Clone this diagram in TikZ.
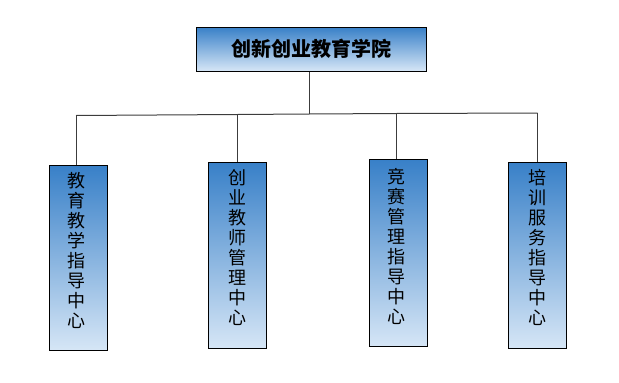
\documentclass[tikz,border=0pt]{standalone}
\usepackage{fontspec}
\newfontfamily\cjk{Noto Sans CJK SC}
\definecolor{boxtop}{RGB}{56,128,200}
\definecolor{boxbot}{RGB}{214,230,246}
\definecolor{linec}{RGB}{60,60,60}
\begin{document}
\begin{tikzpicture}[x=1pt,y=-1pt,
  orgbox/.style={draw=black,line width=1pt,top color=boxtop,bottom color=boxbot,inner sep=0pt},
  vtext/.style={inner sep=0pt,align=center,font=\cjk\fontsize{18}{20}\selectfont},
  conn/.style={draw=linec,line width=1pt}]
\useasboundingbox (0,0) rectangle (619,383);
\node[orgbox,minimum width=230,minimum height=44,font=\cjk\bfseries\fontsize{20}{22}\selectfont] (top) at (311,49) {\raisebox{-3pt}{创新创业教育学院}};
\node[orgbox,minimum width=58,minimum height=185] (b1) at (78.5,258) {};
\node[orgbox,minimum width=58,minimum height=186] (b2) at (237.5,255.2) {};
\node[orgbox,minimum width=58,minimum height=187] (b3) at (398.5,253.3) {};
\node[orgbox,minimum width=58,minimum height=186] (b4) at (537.5,255.2) {};
\node[vtext] (t1) at (76,250) {教\\育\\教\\学\\指\\导\\中\\心};
\node[vtext] (t2) at (237,247.5) {创\\业\\教\\师\\管\\理\\中\\心};
\node[vtext] (t3) at (396,246.5) {竞\\赛\\管\\理\\指\\导\\中\\心};
\node[vtext] (t4) at (537,247.5) {培\\训\\服\\务\\指\\导\\中\\心};
\coordinate (j) at (309,114);
\coordinate (d1) at (76,115.5);
\coordinate (d2) at (237.3,114.5);
\coordinate (d3) at (396,113.5);
\coordinate (d4) at (537.7,113);
\draw[conn] (top.south -| j) -- (j);
\draw[conn] (d1) -- (d2) -- (j) -- (d3) -- (d4);
\draw[conn] (d1) -- (d1 |- b1.north);
\draw[conn] (d2) -- (d2 |- b2.north);
\draw[conn] (d3) -- (d3 |- b3.north);
\draw[conn] (d4) -- (d4 |- b4.north);
\end{tikzpicture}
\end{document}
